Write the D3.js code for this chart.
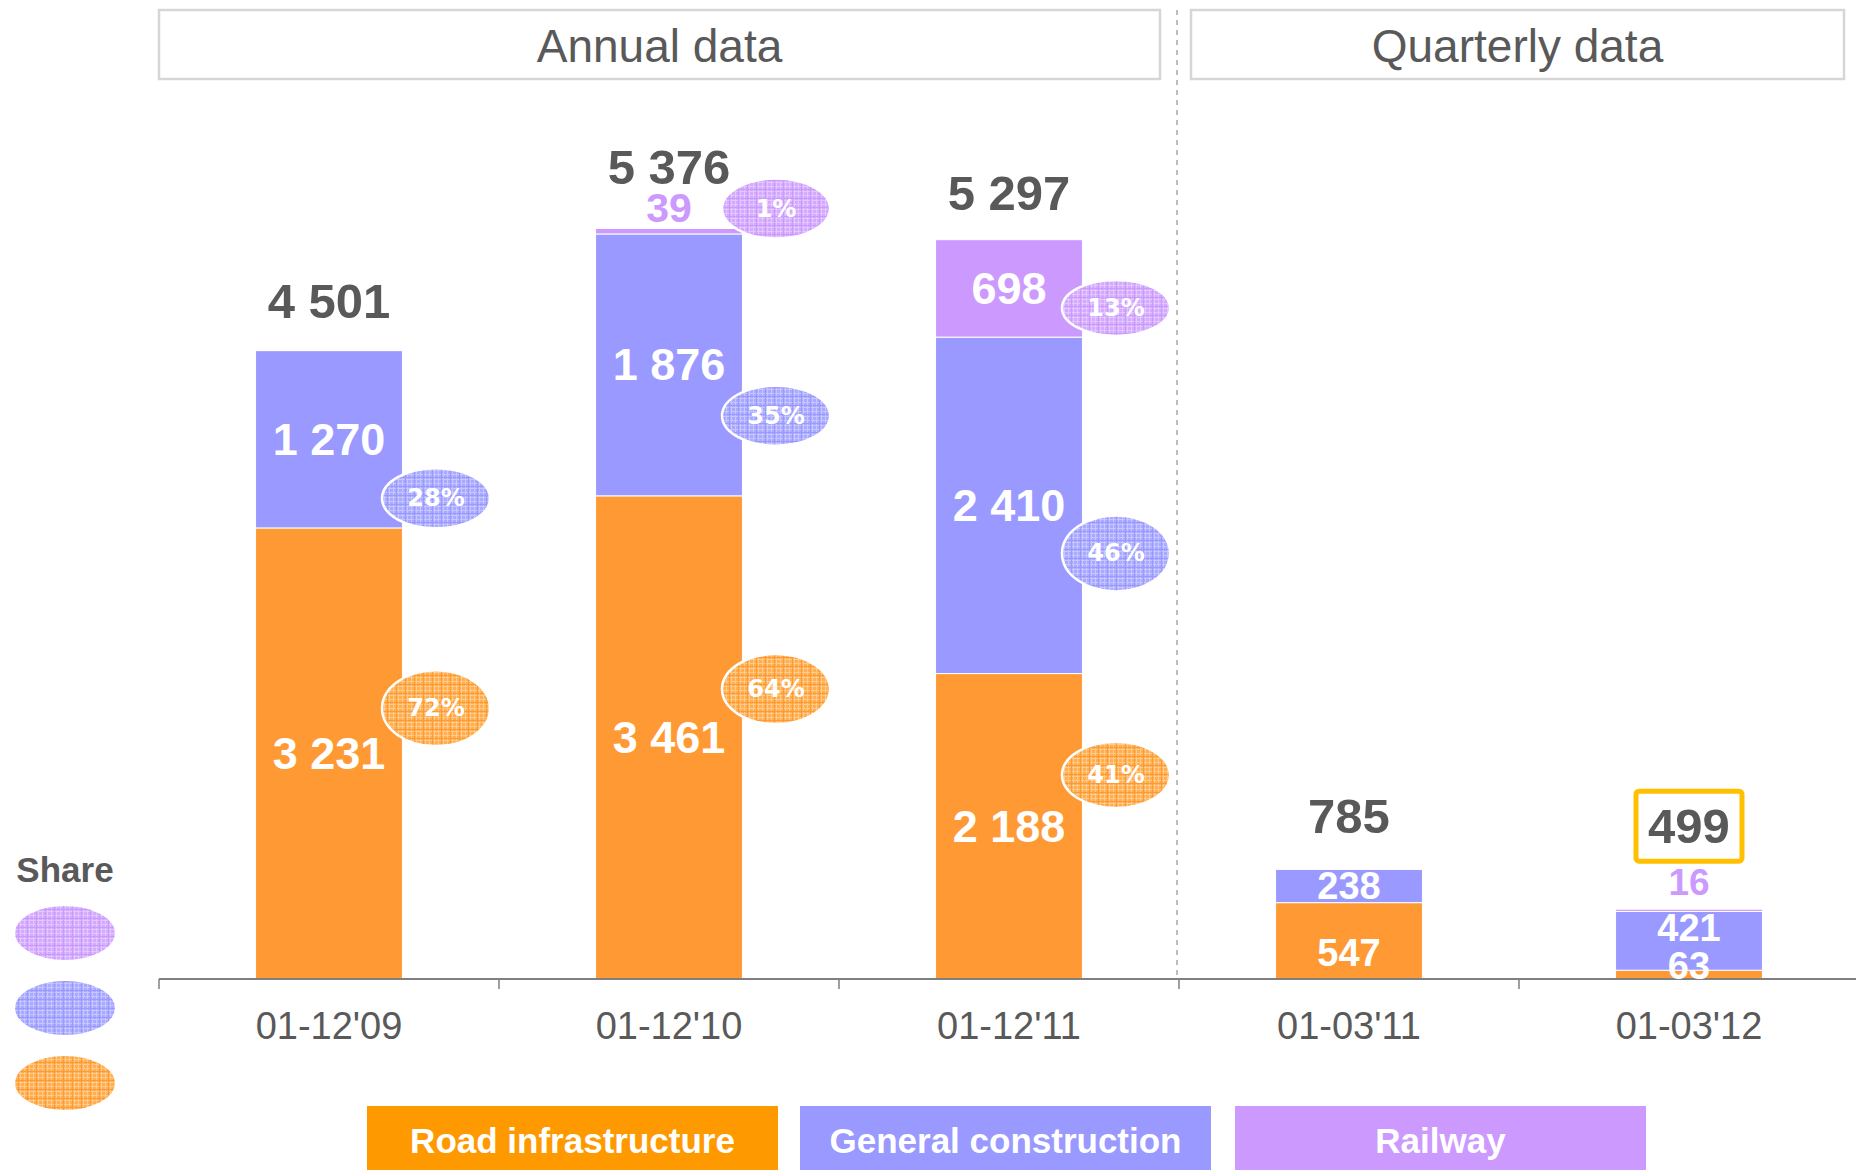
<!DOCTYPE html>
<html>
<head>
<meta charset="utf-8">
<script src="https://cdn.jsdelivr.net/npm/d3@7"></script>
<style>
  html, body { margin: 0; padding: 0; background: #fff; }
  svg { display: block; font-family: "Liberation Sans", Arial, sans-serif; }
</style>
</head>
<body>
<svg id="chart" width="1856" height="1170"></svg>
<script>
// --- data ---
const categories = ["01-12'09", "01-12'10", "01-12'11", "01-03'11", "01-03'12"];
const seriesNames = ["Road infrastructure", "General construction", "Railway"];
const road = [3231, 3461, 2188, 547, 63];
const general = [1270, 1876, 2410, 238, 421];
const railway = [0, 39, 698, 0, 16];
const totals = [4501, 5376, 5297, 785, 499];
const shareRoad = [72, 64, 41, null, null];
const shareGeneral = [28, 35, 46, null, null];
const shareRailway = [null, 1, 13, null, null];
const groupTitles = ["Annual data", "Quarterly data"];

// --- colours ---
const barColors = ["#FF9933", "#9999FF", "#CC99FF"];
const legendColors = ["#FF9900", "#9999FF", "#CC99FF"];
const patBase = ["#FFAE4D", "#A9A9FF", "#D4AAFF"];
const gray = "#595959";

const svg = d3.select("#chart");
const fmt = v => d3.format(",")(v).replace(/,/g, " ");

// --- scales ---
const baseY = 979;
const x = d3.scaleBand().domain(categories).range([159, 1859])
  .paddingInner(0.568).paddingOuter(0.284);
const y = d3.scaleLinear().domain([0, 6000]).range([baseY, baseY - 837.6]);

// --- plaid patterns for share bubbles ---
const defs = svg.append("defs");
barColors.forEach((c, i) => {
  const p = defs.append("pattern").attr("id", "pat" + i)
    .attr("patternUnits", "userSpaceOnUse").attr("width", 9).attr("height", 9);
  p.append("rect").attr("width", 9).attr("height", 9).attr("fill", patBase[i]);
  p.append("path").attr("d", "M0,2.5H9M0,6.5H9M2.5,0V9M6.5,0V9")
    .attr("stroke", "#fff").attr("stroke-width", 1).attr("opacity", 0.35);
  p.append("path").attr("d", "M0,0.5H9M0.5,0V9")
    .attr("stroke", c).attr("stroke-width", 1);
});

// --- group header boxes ---
const headers = [
  { x0: 159, x1: 1160, text: groupTitles[0] },
  { x0: 1191, x1: 1844, text: groupTitles[1] }
];
headers.forEach(h => {
  svg.append("rect").attr("x", h.x0).attr("y", 10).attr("width", h.x1 - h.x0).attr("height", 69)
    .attr("fill", "#fff").attr("stroke", "#D6D6D6").attr("stroke-width", 2.5);
  svg.append("text").attr("x", (h.x0 + h.x1) / 2).attr("y", 46)
    .attr("text-anchor", "middle").attr("dominant-baseline", "central")
    .attr("fill", gray).attr("font-size", 46).text(h.text);
});

// --- dashed separator between annual and quarterly ---
const sepX = 159 + x.step() * 3 - 2;
svg.append("line").attr("x1", sepX).attr("x2", sepX).attr("y1", 10).attr("y2", baseY)
  .attr("stroke", "#A6A6A6").attr("stroke-width", 1.5).attr("stroke-dasharray", "5,5");

// --- stacked bars ---
const stackData = categories.map((c, i) => ({ cat: c, road: road[i], general: general[i], railway: railway[i] }));
const stack = d3.stack().keys(["road", "general", "railway"])(stackData);

const g = svg.append("g");
stack.forEach((layer, si) => {
  g.selectAll(null).data(layer).join("rect")
    .attr("x", d => x(d.data.cat))
    .attr("width", x.bandwidth())
    .attr("y", d => y(d[1]))
    .attr("height", d => Math.max(0, y(d[0]) - y(d[1])))
    .attr("fill", barColors[si])
    .attr("stroke", "#fff").attr("stroke-width", 1);
});

// --- x axis ---
const axis = svg.append("g").attr("transform", `translate(0,${baseY})`)
  .call(d3.axisBottom(x).tickSize(0).tickPadding(33));
axis.select(".domain").remove();
axis.selectAll("text").attr("fill", gray).attr("font-size", 38)
  .attr("font-family", "'Liberation Sans', Arial, sans-serif");
svg.append("line").attr("x1", 159).attr("x2", 1856).attr("y1", baseY).attr("y2", baseY)
  .attr("stroke", "#7F7F7F").attr("stroke-width", 2);
categories.forEach((c, i) => {
  const bx = 159 + x.step() * i;
  svg.append("line").attr("x1", bx).attr("x2", bx).attr("y1", baseY).attr("y2", baseY + 10)
    .attr("stroke", "#7F7F7F").attr("stroke-width", 1.5);
});

// --- segment labels (layout nudges in px for small quarterly segments) ---
const segNudge = { "3-0": 12, "4-1": -13, "4-0": -9 };
stack.forEach((layer, si) => {
  layer.forEach((d, ci) => {
    const v = d[1] - d[0];
    if (!v) return;
    const cx = x(d.data.cat) + x.bandwidth() / 2;
    const small = ci >= 3;
    if (si === 2 && (y(d[0]) - y(d[1])) < 20) {
      // tiny railway: label above bar in its colour
      svg.append("text").attr("x", cx).attr("y", y(d[1]) - (ci === 4 ? 27 : 21))
        .attr("text-anchor", "middle").attr("dominant-baseline", "central")
        .attr("fill", barColors[2]).attr("font-weight", "bold")
        .attr("font-size", ci === 4 ? 37 : 41).text(fmt(v));
      return;
    }
    const my = (y(d[0]) + y(d[1])) / 2 + (segNudge[ci + "-" + si] || 0);
    svg.append("text").attr("x", cx).attr("y", my)
      .attr("text-anchor", "middle").attr("dominant-baseline", "central")
      .attr("fill", "#fff").attr("font-weight", "bold")
      .attr("font-size", small ? 38 : 45).text(fmt(v));
  });
});

// --- totals ---
const totalDy = [50, 62, 47, 53, 83];
totals.forEach((t, i) => {
  const cx = x(categories[i]) + x.bandwidth() / 2;
  const top = y(road[i] + general[i] + railway[i]);
  const ty = top - totalDy[i];
  svg.append("text").attr("x", cx).attr("y", ty)
    .attr("text-anchor", "middle").attr("dominant-baseline", "central")
    .attr("fill", gray).attr("font-weight", "bold").attr("font-size", 49).text(fmt(t));
  if (i === 4) {
    svg.append("rect").attr("x", cx - 53).attr("y", ty - 35).attr("width", 106).attr("height", 70)
      .attr("rx", 3).attr("fill", "none").attr("stroke", "#FFC000").attr("stroke-width", 5);
  }
});

// --- share bubbles (fraction of segment from bottom; ry in px) ---
const shares = [shareRoad, shareGeneral, shareRailway];
const bubbleAt = [[0.60, 0.60, 0.668], [0.167, 0.306, 0.357], [null, null, 0.30]];
const bubbleRy = [[38, 35, 33], [30, 30, 38], [null, 30, 28]];
shares.forEach((arr, si) => {
  arr.forEach((p, ci) => {
    if (p == null) return;
    const d = stack[si][ci];
    let cy;
    if (bubbleAt[si][ci] == null) cy = y(d[1]) - 20;
    else cy = y(d[0] + (d[1] - d[0]) * bubbleAt[si][ci]);
    const cx = x(categories[ci]) + x.bandwidth() / 2 + 107;
    svg.append("ellipse").attr("cx", cx).attr("cy", cy).attr("rx", 54).attr("ry", bubbleRy[si][ci])
      .attr("fill", `url(#pat${si})`).attr("stroke", "#fff").attr("stroke-width", 2.5);
    svg.append("text").attr("x", cx).attr("y", cy)
      .attr("text-anchor", "middle").attr("dominant-baseline", "central")
      .attr("fill", "#fff").attr("font-weight", "bold").attr("font-size", 24)
      .attr("font-family", "'DejaVu Sans', sans-serif").text(p + "%");
  });
});

// --- share legend on the left ---
svg.append("text").attr("x", 65).attr("y", 869).attr("text-anchor", "middle")
  .attr("dominant-baseline", "central").attr("fill", gray).attr("font-weight", "bold")
  .attr("font-size", 35).text("Share");
[2, 1, 0].forEach((si, k) => {
  svg.append("ellipse").attr("cx", 65).attr("cy", 933 + k * 75).attr("rx", 50).attr("ry", 27)
    .attr("fill", `url(#pat${si})`);
});

// --- series legend at the bottom ---
const legX = [367, 800, 1235];
seriesNames.forEach((n, i) => {
  svg.append("rect").attr("x", legX[i]).attr("y", 1106).attr("width", 411).attr("height", 64)
    .attr("fill", legendColors[i]);
  svg.append("text").attr("x", legX[i] + 205.5).attr("y", 1140)
    .attr("text-anchor", "middle").attr("dominant-baseline", "central")
    .attr("fill", "#fff").attr("font-weight", "bold").attr("font-size", 35).text(n);
});
</script>
</body>
</html>
